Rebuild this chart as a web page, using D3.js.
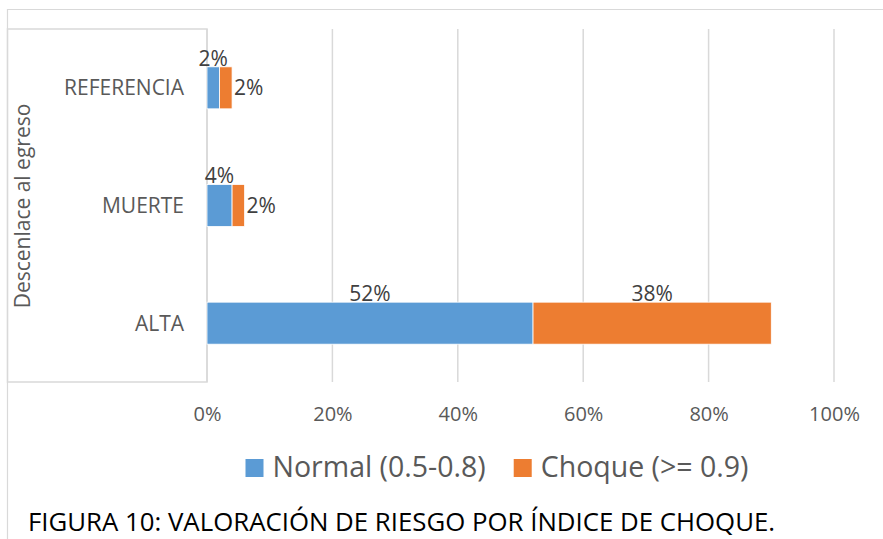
<!DOCTYPE html>
<html lang="es">
<head>
<meta charset="UTF-8">
<title>Valoración de riesgo por índice de choque</title>
<script src="https://cdn.jsdelivr.net/npm/d3@7/dist/d3.min.js"></script>
<style>
    html, body { margin: 0; padding: 0; background: #fff; }
    svg { display: block; font-family: "Open Sans", "Liberation Sans", sans-serif; }
</style>
</head>
<body>
<svg id="chart" width="883" height="539"></svg>
<script>
    // datos del gráfico
    var categories = ["REFERENCIA", "MUERTE", "ALTA"];
    var seriesNames = ["Normal (0.5-0.8)", "Choque (>= 0.9)"];
    var normalValues = [0.02, 0.04, 0.52];
    var choqueValues = [0.02, 0.02, 0.38];
    var xTicks = [0, 0.2, 0.4, 0.6, 0.8, 1];
    var yTitle = "Descenlace al egreso";
    var caption = "FIGURA 10: VALORACIÓN DE RIESGO POR ÍNDICE DE CHOQUE.";

    var colors = ["#5b9bd5", "#ed7d31"];
    var grid = "#d9d9d9";
    var textGray = "#595959";

    var svg = d3.select("#chart");

    // tabla para d3.stack
    var rows = categories.map(function (c, i) {
        return {cat: c, normal: normalValues[i], choque: choqueValues[i]};
    });
    var stacked = d3.stack().keys(["normal", "choque"])(rows);

    var x = d3.scaleLinear().domain([0, 1]).range([207, 834]);
    var y = d3.scaleBand().domain(categories).range([29, 382])
        .paddingInner(0.643).paddingOuter(0.3215);

    // marco exterior
    svg.append("path")
        .attr("d", "M7.5,539V9.5H883")
        .attr("fill", "none")
        .attr("stroke", grid)
        .attr("stroke-width", 1.2);

    // caja del título del eje
    svg.append("rect")
        .attr("x", 7.5).attr("y", 29)
        .attr("width", x(0) - 7.5).attr("height", 382 - 29)
        .attr("fill", "none")
        .attr("stroke", grid)
        .attr("stroke-width", 1.5);

    // líneas de cuadrícula
    svg.append("g").selectAll("line")
        .data(xTicks)
        .enter().append("line")
        .attr("x1", function (d) { return x(d); })
        .attr("x2", function (d) { return x(d); })
        .attr("y1", 29).attr("y2", 382)
        .attr("stroke", grid)
        .attr("stroke-width", 1.5);

    // eje x
    var xAxis = svg.append("g")
        .attr("transform", "translate(0,382)")
        .call(d3.axisBottom(x).tickValues(xTicks).tickFormat(d3.format(".0%")).tickSize(0).tickPadding(0));
    xAxis.select(".domain").remove();
    xAxis.selectAll("text")
        .attr("y", 39).attr("dy", 0)
        .style("font-size", "20px")
        .style("font-family", "Open Sans")
        .style("fill", textGray);

    // eje y (categorías)
    var yAxis = svg.append("g")
        .attr("transform", "translate(" + x(0) + ",0)")
        .call(d3.axisLeft(y).tickSize(0).tickPadding(23));
    yAxis.select(".domain").remove();
    yAxis.selectAll("text")
        .attr("dy", "0.36em")
        .style("font-size", "21px")
        .style("font-family", "Open Sans")
        .style("fill", textGray);

    // título del eje y
    svg.append("text")
        .attr("transform", "translate(30,206) rotate(-90)")
        .attr("text-anchor", "middle")
        .style("font-size", "21px")
        .style("fill", textGray)
        .text(yTitle);

    // barras apiladas
    var layers = svg.append("g").selectAll("g")
        .data(stacked)
        .enter().append("g")
        .attr("fill", function (d, i) { return colors[i]; });

    layers.selectAll("rect")
        .data(function (d) { return d; })
        .enter().append("rect")
        .attr("x", function (d) { return x(d[0]); })
        .attr("y", function (d) { return y(d.data.cat); })
        .attr("width", function (d) { return x(d[1]) - x(d[0]); })
        .attr("height", y.bandwidth())
        .attr("stroke", "#fff")
        .attr("stroke-width", 0.8);

    // etiquetas de datos
    var pct = d3.format(".0%");
    stacked.forEach(function (layer, li) {
        layer.forEach(function (d) {
            var w = x(d[1]) - x(d[0]);
            var t = svg.append("text")
                .style("font-size", "21px")
                .style("fill", "#404040")
                .text(pct(d[1] - d[0]));
            if (li === 1 && w < 40) {
                // a la derecha de la barra
                t.attr("x", x(d[1]) + 2)
                    .attr("y", y(d.data.cat) + y.bandwidth() / 2)
                    .attr("dy", "0.36em")
                    .attr("text-anchor", "start");
            } else {
                t.attr("x", (x(d[0]) + x(d[1])) / 2)
                    .attr("y", y(d.data.cat) - 1)
                    .attr("text-anchor", "middle");
            }
        });
    });

    // leyenda
    var legend = svg.append("g");
    var items = legend.selectAll("g")
        .data(seriesNames)
        .enter().append("g");
    items.append("rect")
        .attr("width", 18).attr("height", 18)
        .attr("y", 459)
        .attr("fill", function (d, i) { return colors[i]; });
    items.append("text")
        .attr("x", 27).attr("y", 477)
        .style("font-size", "28.5px")
        .style("fill", textGray)
        .text(function (d) { return d; });
    var offset = 0, widths = [];
    items.each(function () {
        var w = d3.select(this).select("text").node().getComputedTextLength() + 27;
        widths.push(w);
    });
    var gap = 28;
    var total = d3.sum(widths) + gap * (widths.length - 1);
    var startX = 497 - total / 2;
    items.attr("transform", function (d, i) {
        var tx = startX + offset;
        offset += widths[i] + gap;
        return "translate(" + tx + ",0)";
    });

    // pie de figura
    svg.append("text")
        .attr("x", 28).attr("y", 531)
        .style("font-size", "25.8px")
        .style("fill", "#000")
        .text(caption);
</script>
</body>
</html>
